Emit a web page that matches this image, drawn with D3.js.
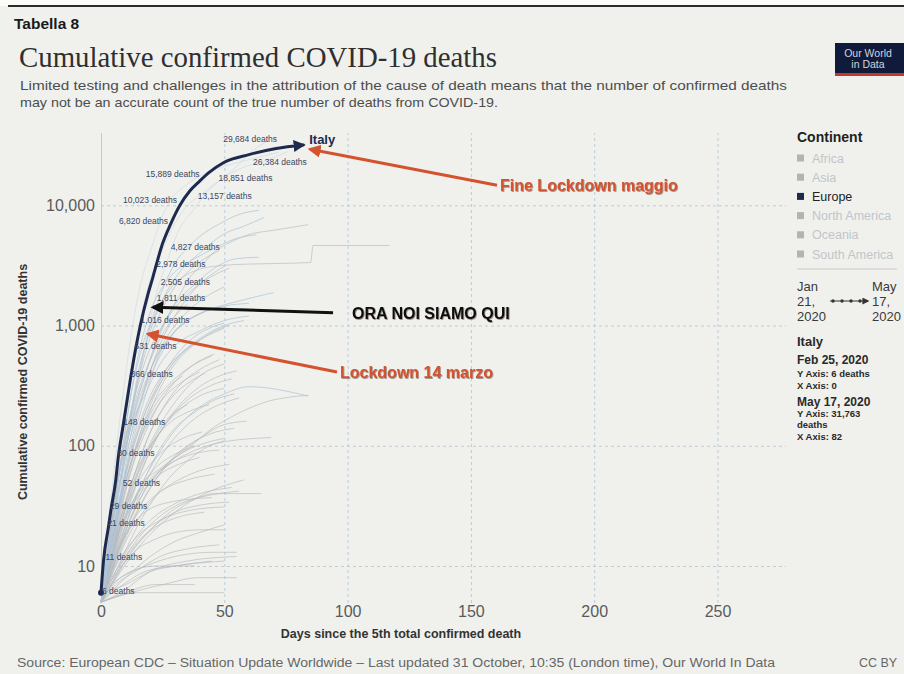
<!DOCTYPE html>
<html>
<head>
<meta charset="utf-8">
<script src="https://cdn.jsdelivr.net/npm/d3@7"></script>
<style>
  body { margin: 0; background: #f0f1ed; }
  svg { display: block; font-family: "Liberation Sans", Arial, Helvetica, sans-serif; }
</style>
</head>
<body>
<svg id="chart" width="904" height="674"></svg>
<script>
// ---- Data -------------------------------------------------------------
// Italy: days since the 5th confirmed death vs cumulative confirmed deaths
const italyDays   = [0, 1, 3, 4, 6, 7, 9, 12, 14, 16, 19, 21, 22, 25, 28, 32, 36, 40, 44, 50, 60, 71, 82];
const italyDeaths = [6, 11, 21, 29, 52, 80, 148, 366, 631, 1016, 1811, 2505, 2978, 4827, 6820, 10023, 13157, 15889, 18851, 22800, 26384, 29684, 31763];
// values that carry a "N deaths" label along the Italy line
const italyLabelled = [6, 11, 21, 29, 52, 80, 148, 366, 631, 1016, 1811, 2505, 2978, 4827, 6820, 10023, 13157, 15889, 18851, 26384, 29684];

// other European countries (faint blue trails), [day, deaths]
const europeTrails = [
  [[0,5],[4,35],[8,190],[12,770],[16,2200],[20,4100],[24,7300],[28,10900],[34,14500],[42,18300],[52,21700],[62,24500],[72,27650]],
  [[0,6],[5,40],[10,230],[15,900],[20,2400],[25,4300],[30,7100],[35,9900],[40,12100],[48,16000],[55,21000],[62,29000],[68,34600]],
  [[0,5],[6,30],[12,180],[17,560],[22,1700],[27,3500],[32,6500],[37,8900],[42,12200],[50,17100],[58,20800],[66,23300],[76,28100]],
  [[0,5],[5,20],[10,90],[15,350],[20,1000],[25,2000],[30,3300],[35,4400],[40,5500],[48,7000],[56,8400],[64,9080]],
  [[0,6],[6,20],[10,90],[15,400],[20,900],[26,1800],[32,2800],[40,4000],[50,5800],[58,6700],[66,7900]],
  [[0,5],[5,24],[10,140],[15,550],[20,1300],[25,2100],[30,2800],[38,3600],[46,4400],[55,5300],[63,5680]],
  [[0,5],[6,30],[12,150],[18,400],[24,900],[30,1500],[38,2200],[46,3000],[55,3600],[64,3700]],
  [[0,5],[6,20],[12,120],[18,300],[24,560],[30,900],[38,1200],[46,1400],[56,1600],[70,1880]],
  [[0,6],[6,20],[12,90],[18,260],[24,600],[30,900],[40,1250],[50,1450],[60,1530]],
  [[0,6],[6,33],[12,140],[18,270],[24,480],[30,680],[40,900],[50,1100],[60,1200]],
  [[0,6],[8,40],[16,150],[24,330],[32,570],[40,780],[50,1000],[58,1100]],
  [[0,5],[8,17],[16,45],[24,90],[32,150],[40,210],[50,270],[60,310],[84,259]]
];

// countries of the remaining continents (grey trails), [day, deaths]
const otherTrails = [
  [[0,6],[3,17],[6,41],[9,106],[12,259],[15,492],[18,812],[21,1113],[24,1523],[27,1868],[30,2239],[35,2663],[40,2946],[50,3169],[60,3245],[70,3277],[85,3342],[86,4632],[117,4634]],
  [[0,8],[4,26],[8,66],[12,145],[16,291],[20,514],[24,853],[28,1284],[32,1812],[36,2517],[40,3036],[46,4110],[52,4870],[60,5710],[70,6200],[84,6900]],
  [[0,6],[8,17],[15,42],[25,67],[35,94],[45,139],[55,183],[65,225],[84,263]],
  [[0,5],[5,25],[10,80],[15,200],[20,420],[25,700],[30,1000],[35,1300],[42,1700],[50,2100]],
  [[0,5],[6,18],[12,60],[18,150],[24,300],[30,480],[38,700],[46,900],[52,1000]],
  [[0,6],[5,14],[10,35],[15,70],[20,130],[26,220],[32,320],[40,430],[48,520]],
  [[0,5],[6,12],[12,28],[18,55],[24,95],[30,140],[38,190],[46,240],[54,270]],
  [[0,5],[7,10],[14,20],[21,35],[28,55],[35,75],[42,95],[50,110]],
  [[0,5],[8,9],[16,15],[24,22],[32,30],[40,38],[48,45],[58,52]],
  [[0,5],[10,8],[20,12],[30,16],[40,19],[50,22]],
  [[0,6],[10,7],[20,9],[30,10],[45,11]],
  [[0,5],[12,6],[25,7],[40,8],[55,8]],
  [[0,5],[4,20],[8,70],[12,180],[16,380],[20,650],[25,1000],[30,1400],[36,1900],[44,2500],[52,3000]],
  [[0,5],[5,30],[10,120],[15,350],[20,800],[25,1400],[30,2100],[36,2900],[42,3600],[48,4200]],
  [[0,6],[6,25],[12,80],[18,190],[24,350],[30,550],[36,750],[44,950],[50,1050]],
  [[0,5],[8,15],[16,40],[24,80],[32,130],[40,180],[48,220],[56,250]],
  [[0,5],[6,8],[12,13],[18,18],[24,24],[30,30],[38,36],[46,40],[65,40]],
  [[0,5],[10,18],[20,45],[30,80],[40,115],[50,150],[59,160]],
  [[0,6],[10,20],[20,50],[30,75],[40,95],[50,108],[69,117]],
  [[0,5],[5,11],[10,18],[15,25],[20,30],[28,34],[36,36],[45,37]],
  [[0,5],[3,9],[7,18],[12,30],[18,45],[25,60],[33,72],[40,80]],
  [[0,7],[8,25],[16,70],[24,150],[32,260],[40,380],[50,480]],
  [[0,5],[5,13],[10,30],[15,60],[20,100],[25,150],[30,190],[35,220]],
  [[0,5],[15,6],[30,6],[50,6]],
  [[0,5],[8,6],[20,9],[35,11],[55,12]],
  [[0,6],[6,9],[12,14],[18,20],[25,27],[32,33],[42,38],[56,42]],
  [[0,5],[4,10],[8,22],[12,45],[16,80],[20,130],[25,200],[30,270],[36,340],[42,400]],
  [[0,5],[6,22],[12,100],[18,310],[24,700],[30,1200],[36,1800],[42,2400],[50,3100]],
  [[0,5],[3,15],[6,40],[10,110],[15,280],[20,520],[25,850],[30,1200],[35,1500]],
  [[0,5],[10,11],[20,20],[30,28],[40,32],[52,34]],
  [[0,6],[5,8],[10,11],[15,14],[20,16],[30,19],[40,20],[50,20]],
  [[0,5],[7,16],[14,45],[21,100],[28,170],[35,240],[45,320],[53,360]],
  [[0,5],[5,7],[12,9],[22,10],[38,10]],
  [[0,6],[4,12],[9,24],[15,40],[22,58],[30,75],[40,88],[48,92]],
  [[0,5],[6,10],[14,17],[24,24],[36,29],[50,31]],
  [[0,5],[5,15],[10,45],[15,110],[20,200],[28,330],[36,450],[45,560]],
  [[0,6],[4,14],[8,35],[12,70],[18,140],[24,230],[32,330],[40,410]],
  [[0,5],[6,16],[12,40],[18,80],[25,140],[32,200],[40,260],[50,300]],
  [[0,5],[3,8],[7,16],[11,28],[16,45],[22,65],[30,85],[38,100]],
  [[0,5],[5,9],[10,16],[16,26],[22,38],[30,50],[40,62],[52,70]],
  [[0,5],[4,7],[9,11],[15,16],[22,21],[30,25],[42,28]],
  [[0,6],[5,20],[10,60],[15,140],[20,260],[26,420],[33,600],[40,750]],
  [[0,5],[4,18],[8,55],[12,140],[17,300],[22,520],[28,800],[34,1050],[42,1300]],
  [[0,5],[7,12],[14,26],[21,48],[28,75],[35,100],[44,125],[54,140]],
  [[0,5],[6,7],[14,9],[24,12],[36,14],[48,15]],
  [[0,5],[9,7],[18,9],[30,10],[50,11]],
  [[0,6],[8,8],[18,10],[30,12],[45,13],[55,13]],
  [[0,5],[4,12],[9,30],[14,60],[20,100],[27,150],[35,190],[44,220]],
  [[0,5],[3,11],[7,28],[11,60],[16,120],[21,200],[27,300],[33,380]],
  [[0,5],[5,10],[11,22],[17,40],[24,62],[32,85],[42,105],[50,115]],
  [[0,7],[6,22],[12,60],[18,130],[24,230],[31,360],[38,480],[46,580]],
  [[0,5],[5,16],[10,50],[16,130],[22,270],[28,450],[35,640],[42,800],[50,950]],
  [[0,5],[10,6],[22,7],[38,7]],
  [[0,5],[6,9],[12,15],[20,24],[30,33],[42,41],[53,45]],
  [[0,6],[3,10],[7,20],[12,38],[18,62],[25,90],[33,115],[41,130]],
  [[0,5],[8,20],[16,60],[24,130],[32,220],[40,310],[48,380],[55,420]],
  [[0,5],[4,9],[8,15],[13,24],[19,34],[26,44],[35,52],[46,58]]
];

const xTicks = [0, 50, 100, 150, 200, 250];
const yTicks = [10, 100, 1000, 10000];
const continents = ["Africa", "Asia", "Europe", "North America", "Oceania", "South America"];
const highlighted = "Europe";

// annotations: text, arrow tip and arrow tail in chart units
const annotations = [
  { text: "Fine Lockdown maggio", tip: [84.8, 29240], tail: [160.6, 14700], color: "#d4532f" },
  { text: "ORA NOI SIAMO QUI",    tip: [21.1, 1420],  tail: [94.1, 1280],   color: "#111111" },
  { text: "Lockdown 14 marzo",    tip: [19.1, 850],   tail: [95.7, 410],    color: "#d4532f" }
];

// ---- Layout -----------------------------------------------------------
const plotTop = 133, plotBottom = 603, plotRight = 786;
const x = d3.scaleLinear().domain([0, 50]).range([101, 224.3]);
const y = d3.scaleLog().domain([10, 10000]).range([566, 205.3]);

const svg = d3.select("#chart");
const navy = "#1d2a4e";

const defs = svg.append("defs");
function arrowMarker(id, color, size) {
  defs.append("marker")
    .attr("id", id).attr("viewBox", "0 0 10 10")
    .attr("refX", 8).attr("refY", 5)
    .attr("markerUnits", "userSpaceOnUse")
    .attr("markerWidth", size).attr("markerHeight", size)
    .attr("orient", "auto")
    .append("path").attr("d", "M0,0 L10,5 L0,10 z").attr("fill", color);
}
arrowMarker("arrow-navy", navy, 12);
arrowMarker("arrow-red", "#d4532f", 13);
arrowMarker("arrow-black", "#111111", 13);
arrowMarker("arrow-small", "#333333", 7);

const shadow = defs.append("filter").attr("id", "txtShadow")
  .attr("x", "-5%").attr("y", "-30%").attr("width", "110%").attr("height", "160%");
shadow.append("feDropShadow").attr("dx", 0.8).attr("dy", 0.8)
  .attr("stdDeviation", 0.6).attr("flood-color", "#3a1c12").attr("flood-opacity", 0.55);

// page background and top rule
svg.append("rect").attr("width", 904).attr("height", 674).attr("fill", "#f0f1ed");
svg.append("rect").attr("width", 904).attr("height", 6).attr("fill", "#fbfbfa");
svg.append("line").attr("x1", 8).attr("x2", 904).attr("y1", 6).attr("y2", 6)
  .attr("stroke", "#2b2b2b").attr("stroke-width", 2);

// header
svg.append("text").attr("x", 14).attr("y", 29)
  .attr("font-size", 15.5).attr("font-weight", "bold").attr("fill", "#1a1a1a")
  .text("Tabella 8");
svg.append("text").attr("x", 19).attr("y", 67)
  .attr("font-family", "'Liberation Serif', 'Times New Roman', serif")
  .attr("font-size", 29).attr("fill", "#2f2f2f")
  .attr("textLength", 478).attr("lengthAdjust", "spacingAndGlyphs")
  .text("Cumulative confirmed COVID-19 deaths");
svg.append("text").attr("x", 20).attr("y", 90)
  .attr("font-size", 13.5).attr("fill", "#4d4d4d")
  .attr("textLength", 767).attr("lengthAdjust", "spacingAndGlyphs")
  .text("Limited testing and challenges in the attribution of the cause of death means that the number of confirmed deaths");
svg.append("text").attr("x", 20).attr("y", 107)
  .attr("font-size", 13.5).attr("fill", "#4d4d4d")
  .attr("textLength", 478).attr("lengthAdjust", "spacingAndGlyphs")
  .text("may not be an accurate count of the true number of deaths from COVID-19.");

// logo
const logo = svg.append("g");
logo.append("rect").attr("x", 835).attr("y", 43).attr("width", 69).attr("height", 33).attr("fill", "#101b3b");
logo.append("rect").attr("x", 835).attr("y", 73).attr("width", 69).attr("height", 3).attr("fill", "#c0392b");
logo.append("text").attr("x", 868).attr("y", 57).attr("text-anchor", "middle")
  .attr("font-size", 10.5).attr("fill", "#cfd4de").text("Our World");
logo.append("text").attr("x", 868).attr("y", 68).attr("text-anchor", "middle")
  .attr("font-size", 10.5).attr("fill", "#cfd4de").text("in Data");

// ---- Axes & grid ------------------------------------------------------
const gridColor = "#bdccd7";
const xAxis = svg.append("g").attr("transform", `translate(0,${plotBottom})`)
  .call(d3.axisBottom(x).tickValues(xTicks).tickSize(-(plotBottom - plotTop)).tickPadding(3));
xAxis.select(".domain").remove();
xAxis.selectAll(".tick line")
  .attr("stroke", gridColor).attr("stroke-dasharray", d => d === 0 ? null : "3,3");
xAxis.selectAll(".tick text")
  .attr("font-size", 16).attr("fill", "#5a5a5a").attr("font-family", "'Liberation Sans', Arial, sans-serif");

const yAxis = svg.append("g").attr("transform", `translate(${x(0)},0)`)
  .call(d3.axisLeft(y).tickValues(yTicks).tickFormat(d3.format(",")).tickSize(-(plotRight - x(0))).tickPadding(6));
yAxis.select(".domain").remove();
yAxis.selectAll(".tick line").attr("stroke", gridColor).attr("stroke-dasharray", "3,3");
yAxis.selectAll(".tick text")
  .attr("font-size", 16).attr("fill", "#5a5a5a").attr("font-family", "'Liberation Sans', Arial, sans-serif");

svg.append("text")
  .attr("transform", `translate(27,${(plotTop + plotBottom) / 2 + 14}) rotate(-90)`)
  .attr("text-anchor", "middle").attr("font-size", 12.5).attr("font-weight", "bold").attr("fill", "#333")
  .text("Cumulative confirmed COVID-19 deaths");
svg.append("text").attr("x", 401).attr("y", 638).attr("text-anchor", "middle")
  .attr("font-size", 12.5).attr("font-weight", "bold").attr("fill", "#333")
  .text("Days since the 5th total confirmed death");

// ---- Trails -----------------------------------------------------------
const trailLine = d3.line().x(d => x(d[0])).y(d => y(d[1])).curve(d3.curveMonotoneX);
svg.append("g").selectAll("path").data(otherTrails).join("path")
  .attr("d", trailLine).attr("fill", "none")
  .attr("stroke", "#b4b7ba").attr("stroke-width", 0.9).attr("stroke-opacity", 0.7);
svg.append("g").selectAll("path").data(europeTrails).join("path")
  .attr("d", trailLine).attr("fill", "none")
  .attr("stroke", "#adc6da").attr("stroke-width", 1).attr("stroke-opacity", (d, i) => i < 3 ? 0.35 : 0.75);

// ---- Italy ------------------------------------------------------------
const italy = italyDays.map((d, i) => [d, italyDeaths[i]]);
svg.append("path").datum(italy)
  .attr("d", trailLine).attr("fill", "none")
  .attr("stroke", navy).attr("stroke-width", 3)
  .attr("stroke-linecap", "round")
  .attr("marker-end", "url(#arrow-navy)");
svg.append("circle").attr("cx", x(italy[0][0])).attr("cy", y(italy[0][1])).attr("r", 3).attr("fill", navy);

// label placement for each labelled point: [dx, dy, anchor]
const labelPlacement = [
  [1, -2, "start"], [2, -4, "start"], [-1, -4, "start"], [-1, -4, "start"], [7, 3, "start"],
  [-1, -4, "start"], [0, -3, "start"], [0, -4, "start"], [-1, -4, "start"], [0, -5, "start"],
  [9, 3, "start"], [8, 4, "start"], [1, -5, "start"], [8, 4, "start"], [-2, -4, "end"],
  [-3, -5, "end"], [8, 5, "start"], [0, -7, "end"], [9, 6, "start"], [4, 7, "start"], [1, -9, "end"]
];
const fmt = d3.format(",");
svg.append("g").selectAll("text").data(italyLabelled).join("text")
  .each(function (v, i) {
    const p = italy.find(q => q[1] === v);
    const [dx, dy, anchor] = labelPlacement[i];
    d3.select(this)
      .attr("x", x(p[0]) + dx).attr("y", y(p[1]) + dy + 3)
      .attr("text-anchor", anchor);
  })
  .attr("font-size", 8.5).attr("fill", "#3b4560")
  .text(v => `${fmt(v)} deaths`);

const last = italy[italy.length - 1];
svg.append("text").attr("x", x(last[0]) + 6).attr("y", y(last[1]) - 1)
  .attr("font-size", 13).attr("font-weight", "bold").attr("fill", navy).text("Italy");

// ---- Annotations ------------------------------------------------------
annotations.forEach(a => {
  const marker = a.color === "#111111" ? "url(#arrow-black)" : "url(#arrow-red)";
  svg.append("line")
    .attr("x1", x(a.tail[0])).attr("y1", y(a.tail[1]))
    .attr("x2", x(a.tip[0])).attr("y2", y(a.tip[1]))
    .attr("stroke", a.color).attr("stroke-width", 3)
    .attr("marker-end", marker);
  svg.append("text")
    .attr("x", x(a.tail[0]) + (a.color === "#111111" ? 19 : 3))
    .attr("y", y(a.tail[1]) + 6)
    .attr("font-size", 16).attr("font-weight", "bold").attr("fill", a.color)
    .attr("filter", "url(#txtShadow)")
    .text(a.text);
});

// ---- Legend -----------------------------------------------------------
const lg = svg.append("g");
lg.append("text").attr("x", 797).attr("y", 142)
  .attr("font-size", 14).attr("font-weight", "bold").attr("fill", "#1f1f1f").text("Continent");
continents.forEach((c, i) => {
  const cy = 158 + i * 19.2;
  const on = c === highlighted;
  lg.append("rect").attr("x", 797).attr("y", cy - 3.5).attr("width", 7).attr("height", 7)
    .attr("fill", on ? navy : "#b3b3b3");
  lg.append("text").attr("x", 812).attr("y", cy + 4.5)
    .attr("font-size", 12.5).attr("fill", on ? "#222" : "#c0c5cb").text(c);
});
lg.append("line").attr("x1", 797).attr("x2", 897).attr("y1", 269).attr("y2", 269)
  .attr("stroke", "#c9c9c9").attr("stroke-width", 1);

const dateLines = [["Jan", "21,", "2020"], ["May", "17,", "2020"]];
dateLines.forEach((lines, k) => {
  lines.forEach((t, j) => {
    lg.append("text").attr("x", k === 0 ? 797 : 872).attr("y", 291 + j * 15)
      .attr("font-size", 13).attr("fill", "#3a3a3a").text(t);
  });
});
lg.append("line").attr("x1", 830).attr("x2", 868).attr("y1", 301).attr("y2", 301)
  .attr("stroke", "#333").attr("stroke-width", 1).attr("marker-end", "url(#arrow-small)");
[833, 842, 851, 860].forEach(cx => lg.append("circle").attr("cx", cx).attr("cy", 301).attr("r", 1.7).attr("fill", "#333"));

const info = [
  ["Italy", 13, 346],
  ["Feb 25, 2020", 12, 364],
  ["Y Axis: 6 deaths", 9.5, 377],
  ["X Axis: 0", 9.5, 389],
  ["May 17, 2020", 12, 406],
  ["Y Axis: 31,763", 9.5, 417],
  ["deaths", 9.5, 428],
  ["X Axis: 82", 9.5, 440]
];
info.forEach(([t, s, yy]) => {
  lg.append("text").attr("x", 797).attr("y", yy)
    .attr("font-size", s).attr("font-weight", "bold").attr("fill", "#2a2a2a").text(t);
});

// ---- Footer -----------------------------------------------------------
svg.append("text").attr("x", 17).attr("y", 667)
  .attr("font-size", 12.5).attr("fill", "#666")
  .attr("textLength", 758).attr("lengthAdjust", "spacingAndGlyphs")
  .text("Source: European CDC – Situation Update Worldwide – Last updated 31 October, 10:35 (London time), Our World In Data");
svg.append("text").attr("x", 859).attr("y", 667)
  .attr("font-size", 12.5).attr("fill", "#666").text("CC BY");
</script>
</body>
</html>
